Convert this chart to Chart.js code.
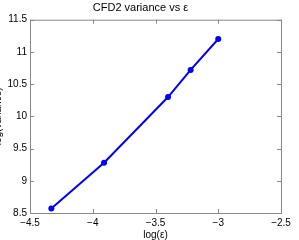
<!DOCTYPE html>
<html>
<head>
<meta charset="utf-8">
<script src="https://cdn.jsdelivr.net/npm/chart.js@4/dist/chart.umd.min.js"></script>
<style>
  html, body { margin: 0; padding: 0; background: #fff; }
  #wrap { width: 299px; height: 240px; }
</style>
</head>
<body>
<div id="wrap"><canvas id="varChart" width="299" height="240"></canvas></div>
<script>
// values
const logEps = [-4.33, -3.91, -3.40, -3.22, -3.00];
const logVar = [8.57, 9.28, 10.30, 10.72, 11.20];
const xTicks = [-4.5, -4, -3.5, -3, -2.5];
const yTicks = [8.5, 9, 9.5, 10, 10.5, 11, 11.5];

const fmt = v => String(v).replace('-', '\u2212');

// small inward tick marks on all four sides, matlab style
const innerTicks = {
    id: 'innerTicks',
    afterDatasetsDraw(chart) {
        const { ctx, chartArea: a, scales: { x, y } } = chart;
        const len = 4;
        ctx.save();
        ctx.strokeStyle = '#888';
        ctx.lineWidth = 1;
        ctx.beginPath();
        xTicks.forEach(v => {
            const px = Math.round(x.getPixelForValue(v)) + 0.5;
            ctx.moveTo(px, a.bottom); ctx.lineTo(px, a.bottom - len);
            ctx.moveTo(px, a.top); ctx.lineTo(px, a.top + len);
        });
        yTicks.forEach(v => {
            const py = Math.round(y.getPixelForValue(v)) + 0.5;
            ctx.moveTo(a.left, py); ctx.lineTo(a.left + len, py);
            ctx.moveTo(a.right, py); ctx.lineTo(a.right - len, py);
        });
        ctx.stroke();
        ctx.strokeRect(a.left + 0.5, a.top + 0.5, a.right - a.left, a.bottom - a.top);
        ctx.restore();
    }
};

document.addEventListener('DOMContentLoaded', function() {
    const ctx = document.getElementById('varChart').getContext('2d');
    new Chart(ctx, {
        type: 'scatter',
        data: {
            datasets: [{
                data: logEps.map((v, i) => ({ x: v, y: logVar[i] })),
                showLine: true,
                borderColor: '#0000ff',
                backgroundColor: '#0000ff',
                borderWidth: 2,
                pointRadius: 3,
                pointBorderWidth: 0,
                pointHoverRadius: 3
            }]
        },
        options: {
            responsive: false,
            animation: false,
            events: [],
            layout: { padding: { left: 0, right: 18, top: 0, bottom: 0 } },
            plugins: {
                legend: { display: false },
                tooltip: { enabled: false },
                title: {
                    display: true,
                    text: 'CFD2 variance vs \u03b5',
                    color: '#000',
                    font: { family: 'Liberation Sans', size: 11, weight: 'normal' },
                    padding: { top: 1.5, bottom: 5 }
                }
            },
            scales: {
                x: {
                    type: 'linear',
                    min: -4.5, max: -2.5,
                    afterBuildTicks: s => { s.ticks = xTicks.map(v => ({ value: v })); },
                    afterFit: s => { s.height = 27; },
                    grid: { display: false, drawTicks: false },
                    border: { display: false },
                    ticks: {
                        color: '#000',
                        padding: 4,
                        maxRotation: 0,
                        autoSkip: false,
                        font: { family: 'Liberation Sans', size: 10 },
                        callback: v => fmt(v)
                    },
                    title: {
                        display: true,
                        text: 'log(\u03b5)',
                        color: '#000',
                        font: { family: 'Liberation Sans', size: 10 },
                        padding: { top: 0, bottom: -1.5 }
                    }
                },
                y: {
                    type: 'linear',
                    min: 8.5, max: 11.5,
                    afterBuildTicks: s => { s.ticks = yTicks.map(v => ({ value: v })); },
                    afterFit: s => { s.width = 30; },
                    grid: { display: false, drawTicks: false },
                    border: { display: false },
                    ticks: {
                        color: '#000',
                        padding: 3,
                        autoSkip: false,
                        font: { family: 'Liberation Sans', size: 10 },
                        callback: v => fmt(v)
                    },
                    title: {
                        display: true,
                        text: 'log(variance)',
                        color: '#000',
                        font: { family: 'Liberation Sans', size: 10 },
                        padding: { top: -8, bottom: 0 }
                    }
                }
            }
        },
        plugins: [innerTicks]
    });
});
</script>
</body>
</html>
